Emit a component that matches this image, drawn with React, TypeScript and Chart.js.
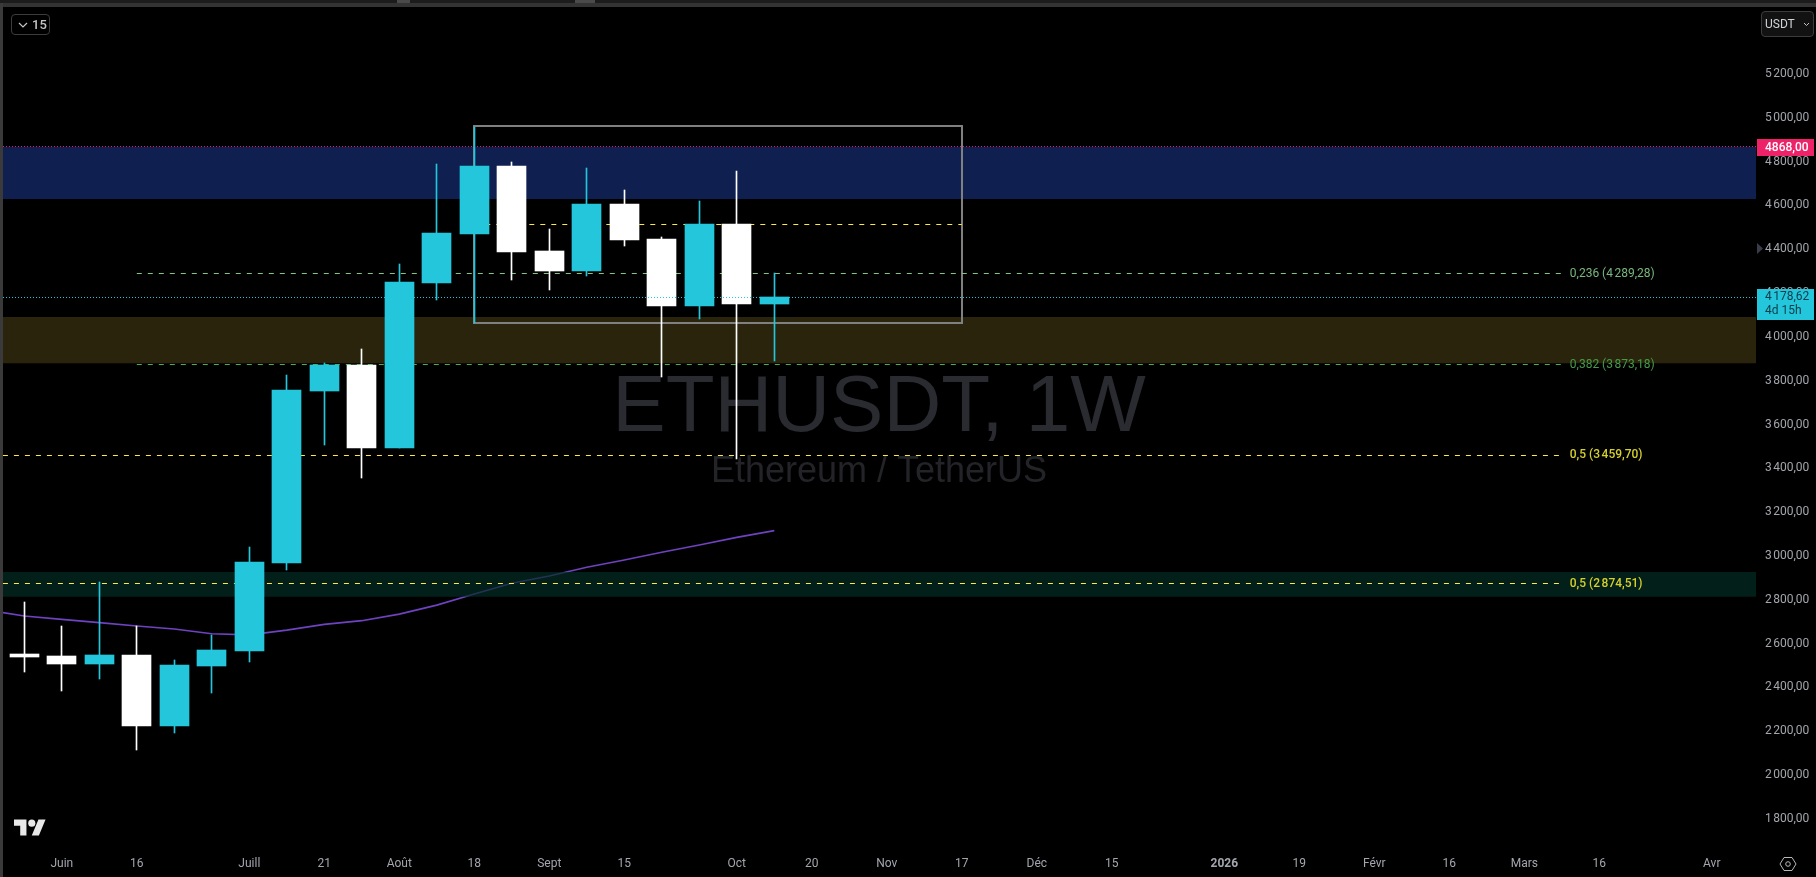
import React, { useEffect, useRef } from "react";
import { Chart, registerables } from "chart.js";

Chart.register(...registerables);

// Candles, one per week
const opens = [2553, 2544, 2507, 2548, 2226, 2498, 2568, 2970, 3755, 3872, 3494, 4246, 4471, 4780, 4392, 4301, 4607, 4447, 4141, 4515, 4150];
const highs = [2790, 2681, 2881, 2681, 2525, 2640, 3043, 3826, 3880, 3945, 4333, 4789, 4959, 4798, 4493, 4771, 4671, 4456, 4620, 4757, 4290];
const lows = [2472, 2385, 2440, 2116, 2194, 2376, 2518, 2938, 3508, 3358, 3494, 4170, 4064, 4260, 4214, 4279, 4415, 3818, 4082, 3441, 3892];
const closes = [2539, 2507, 2548, 2226, 2503, 2571, 2973, 3758, 3872, 3494, 4251, 4474, 4780, 4388, 4301, 4607, 4442, 4141, 4515, 4150, 4182];

// Moving average
const maWeeks = [-0.57, 0, 1, 2, 3, 4, 5, 6, 7, 8, 9, 10, 11, 12, 13, 14, 15, 16, 17, 18, 19, 20];
const maValues = [2742, 2726, 2711, 2696, 2681, 2667, 2645, 2640, 2662, 2688, 2705, 2735, 2776, 2827, 2876, 2909, 2949, 2982, 3017, 3050, 3085, 3116];

// Axis
const yTickValues = [5200, 5000, 4800, 4600, 4400, 4200, 4000, 3800, 3600, 3400, 3200, 3000, 2800, 2600, 2400, 2200, 2000, 1800];
const yTickLabels = ["5\u202f200,00", "5\u202f000,00", "4\u202f800,00", "4\u202f600,00", "4\u202f400,00", "4\u202f200,00", "4\u202f000,00", "3\u202f800,00", "3\u202f600,00", "3\u202f400,00", "3\u202f200,00", "3\u202f000,00", "2\u202f800,00", "2\u202f600,00", "2\u202f400,00", "2\u202f200,00", "2\u202f000,00", "1\u202f800,00"];
const xTickWeeks = [1, 3, 6, 8, 10, 12, 14, 16, 19, 21, 23, 25, 27, 29, 32, 34, 36, 38, 40, 42, 45];
const xTickLabels = ["Juin", "16", "Juill", "21", "Août", "18", "Sept", "15", "Oct", "20", "Nov", "17", "Déc", "15", "2026", "19", "Févr", "16", "Mars", "16", "Avr"];
const xDomain = [-0.568, 46.179];
const yDomain = [1662.9, 5505.8];

// Zones
const blueZone = [4629, 4868];
const oliveZone = [3880, 4091];
const tealZone = [2814, 2927];

// Drawn box
const boxWeeks = [12, 25];
const boxPrices = [4064, 4964];

// Horizontal levels
const lastPrice = 4178.62;
const resistance = 4868;
const boxLevel = 4514;
const fibValues = [4289.28, 3873.18, 3459.7, 2874.51];
const fibStarts = [3, 3, -0.57, -0.57];
const fibEnd = 41;
const fibColors = ["#81c784", "#4caf50", "#ffeb3b", "#ffeb3b"];
const fibLabels = ["0,236 (4\u202f289,28)", "0,382 (3\u202f873,18)", "0,5 (3\u202f459,70)", "0,5 (2\u202f874,51)"];
const fibLabelColors = ["#79b77c", "#459c49", "#d6d02c", "#d6d02c"];
const fibLabelWeights = ["400", "400", "500", "500"];

const FONT = "Roboto, 'Noto Sans', sans-serif";
const UP = "#24c6dc";
const DOWN = "#ffffff";

const level = (value: number, from: number, to: number, color: string, dash: number[], order: number) => ({
  type: "line",
  data: [{ x: from, y: value }, { x: to, y: value }],
  borderColor: color,
  borderWidth: 1,
  borderDash: dash,
  pointRadius: 0,
  order,
  snapMode: "level",
});

const zone = (range: number[], color: string, order: number) => ({
  type: "line",
  data: [{ x: xDomain[0], y: range[1] }, { x: xDomain[1], y: range[1] }],
  borderWidth: 0,
  borderColor: "transparent",
  backgroundColor: color,
  fill: { value: range[0] },
  pointRadius: 0,
  order,
});

const snapPlugin = {
  id: "snap",
  afterDatasetsUpdate(chart: any) {
    chart.data.datasets.forEach((ds: any, i: number) => {
      const els = chart.getDatasetMeta(i).data;
      els.forEach((el: any) => {
        if (ds.snapMode === "bar") {
          const w = ds.barThickness;
          el.x = Math.round(el.x - w / 2) + w / 2;
          el.y = Math.round(el.y);
          el.base = Math.round(el.base);
          el.height = el.base - el.y;
        } else if (ds.snapMode === "level") {
          el.y = Math.floor(el.y) + 0.5;
        } else if (ds.snapMode === "box") {
          el.x = Math.round(el.x);
          el.y = Math.round(el.y);
        }
      });
    });
  },
};

const watermarkPlugin = {
  id: "watermark",
  beforeDatasetsDraw(chart: any) {
    const c = chart.ctx;
    c.save();
    c.textAlign = "center";
    c.textBaseline = "alphabetic";
    c.fillStyle = "#2a2b30";
    c.font = "80px 'Liberation Sans', Arial, sans-serif";
    c.fillText("ETHUSDT, 1W", 879, 431);
    c.fillStyle = "#232428";
    c.font = "36px 'Liberation Sans', Arial, sans-serif";
    c.fillText("Ethereum / TetherUS", 879, 482);
    c.restore();
  },
};

const overlayPlugin = {
  id: "overlay",
  afterDraw(chart: any) {
    const c = chart.ctx;
    const xs = chart.scales.x;
    const ys = chart.scales.y;
    c.save();
    c.textBaseline = "middle";
    c.textAlign = "left";
    fibLabels.forEach((t, i) => {
      c.font = `${fibLabelWeights[i]} 12px ${FONT}`;
      c.fillStyle = fibLabelColors[i];
      c.fillText(t, xs.getPixelForValue(fibEnd) + 8, Math.round(ys.getPixelForValue(fibValues[i])));
    });
    // resistance price tag
    const ry = Math.round(ys.getPixelForValue(resistance));
    c.fillStyle = "#ee2268";
    c.fillRect(1757, ry - 8, 57, 17);
    c.fillStyle = "#ffffff";
    c.font = `500 12px ${FONT}`;
    c.fillText("4868,00", 1765, ry + 1);
    // last price tag
    const ly = Math.round(ys.getPixelForValue(lastPrice));
    c.fillStyle = UP;
    c.fillRect(1757, ly - 9, 57, 31);
    c.fillStyle = "#0d3b47";
    c.font = `400 12px ${FONT}`;
    c.fillText("4\u202f178,62", 1765, ly - 1);
    c.fillText("4d 15h", 1765, ly + 13);
    // alert marker
    c.fillStyle = "#3a3c4a";
    c.beginPath();
    c.moveTo(1757, 243);
    c.lineTo(1763, 248.5);
    c.lineTo(1757, 254);
    c.closePath();
    c.fill();
    c.restore();
  },
};

const noAxisPadding = (s: any) => {
  s.paddingLeft = 0;
  s.paddingRight = 0;
  s.paddingTop = 0;
  s.paddingBottom = 0;
};

export default function App() {
  const ref = useRef<HTMLCanvasElement | null>(null);

  useEffect(() => {
    const weeks = opens.map((_, i) => i);
    const candleColors = opens.map((o, i) => (closes[i] >= o ? UP : DOWN));
    const chart = new Chart(ref.current as any, {
      type: "bar",
      data: {
        datasets: [
          zone(blueZone, "#0e1f50", 100),
          zone(oliveZone, "#2a240c", 100),
          zone(tealZone, "rgba(3,44,37,0.7)", 60),
          {
            type: "line",
            data: maWeeks.map((x, i) => ({ x, y: maValues[i] })),
            borderColor: "#6f42c1",
            borderWidth: 1.6,
            pointRadius: 0,
            order: 70,
          },
          {
            type: "line",
            data: [
              { x: boxWeeks[0], y: boxPrices[1] },
              { x: boxWeeks[1], y: boxPrices[1] },
              { x: boxWeeks[1], y: boxPrices[0] },
              { x: boxWeeks[0], y: boxPrices[0] },
              { x: boxWeeks[0], y: boxPrices[1] },
            ],
            borderColor: "#808080",
            borderWidth: 2,
            borderCapStyle: "square",
            pointRadius: 0,
            order: 50,
            snapMode: "box",
          },
          level(boxLevel, boxWeeks[0], boxWeeks[1], "#ffeb3b", [5, 6], 40),
          ...fibValues.map((v, i) => level(v, fibStarts[i], fibEnd, fibColors[i], [5, 6], 40)),
          level(resistance, xDomain[0], xDomain[1], "#e91e63", [1, 2], 40),
          {
            type: "bar",
            data: weeks.map((x) => ({ x, y: [lows[x], highs[x]] })),
            backgroundColor: candleColors,
            barThickness: 1,
            grouped: false,
            order: 20,
            snapMode: "bar",
          },
          {
            type: "bar",
            data: weeks.map((x) => ({ x, y: [Math.min(opens[x], closes[x]), Math.max(opens[x], closes[x])] })),
            backgroundColor: candleColors,
            barThickness: 29,
            grouped: false,
            order: 10,
            snapMode: "bar",
          },
          level(lastPrice, xDomain[0], xDomain[1], "#24c6dc", [1, 2], 5),
        ] as any,
      },
      options: {
        responsive: false,
        animation: false,
        events: [],
        layout: { autoPadding: false, padding: { left: 3, top: 7, right: 0, bottom: 0 } },
        plugins: { legend: { display: false }, title: { display: false }, tooltip: { enabled: false } },
        scales: {
          x: {
            type: "linear",
            offset: false,
            min: xDomain[0],
            max: xDomain[1],
            grid: { display: false, drawTicks: false },
            border: { display: false },
            afterBuildTicks: (s: any) => {
              s.ticks = xTickWeeks.map((value) => ({ value }));
            },
            afterFit: (s: any) => {
              s.height = 28;
              noAxisPadding(s);
            },
            ticks: {
              autoSkip: false,
              maxRotation: 0,
              padding: 8,
              color: "#a3a6ad",
              font: (ctx: any) => ({ family: FONT, size: 12, weight: ctx.tick && ctx.tick.value === 32 ? "700" : "400" }),
              callback: (v: any) => xTickLabels[xTickWeeks.indexOf(v)],
            },
          },
          y: {
            type: "linear",
            position: "right",
            min: yDomain[0],
            max: yDomain[1],
            grid: { display: false, drawTicks: false },
            border: { display: false },
            afterBuildTicks: (s: any) => {
              s.ticks = yTickValues.map((value) => ({ value }));
            },
            afterFit: (s: any) => {
              s.width = 60;
              noAxisPadding(s);
            },
            ticks: {
              autoSkip: false,
              padding: 9,
              crossAlign: "near",
              color: "#a3a6ad",
              font: { family: FONT, size: 12 },
              callback: (v: any) => yTickLabels[yTickValues.indexOf(v)],
            },
          },
        },
      } as any,
      plugins: [snapPlugin, watermarkPlugin, overlayPlugin] as any,
    });
    return () => chart.destroy();
  }, []);

  const abs = (left: number, top: number, width: number, height: number, background: string): React.CSSProperties => ({
    position: "absolute",
    left,
    top,
    width,
    height,
    background,
  });

  return (
    <div style={{ position: "fixed", inset: 0, background: "#000", overflow: "hidden", fontFamily: FONT }}>
      <canvas ref={ref} width={1816} height={877} style={{ position: "absolute", left: 0, top: 0, width: 1816, height: 877 }} />
      <div style={abs(0, 0, 1816, 3, "#1c1c1c")} />
      <div style={abs(0, 3, 1816, 4, "#333333")} />
      <div style={abs(0, 3, 3, 874, "#3a3a3a")} />
      <div style={abs(397, 0, 13, 3, "#4a4a4a")} />
      <div style={abs(575, 0, 20, 3, "#4a4a4a")} />
      <div style={{ position: "absolute", left: 11, top: 14, width: 37, height: 19, border: "1px solid #3c3c3c", borderRadius: 4, color: "#c4c4c4", fontSize: 13, lineHeight: "19px", fontWeight: 500 }}>
        <svg width="10" height="6" viewBox="0 0 10 6" style={{ position: "absolute", left: 6, top: 7 }}>
          <path d="M1 1l4 4 4-4" fill="none" stroke="#c4c4c4" strokeWidth="1.2" />
        </svg>
        <span style={{ position: "absolute", left: 20 }}>15</span>
      </div>
      <div style={{ position: "absolute", left: 1761, top: 11, width: 51, height: 24, border: "1px solid #3c3c3c", borderRadius: 4, background: "#121212", color: "#d0d3d8", fontSize: 12, lineHeight: "24px" }}>
        <span style={{ position: "absolute", left: 3 }}>USDT</span>
        <svg width="7" height="5" viewBox="0 0 7 5" style={{ position: "absolute", left: 41, top: 10 }}>
          <path d="M1 1l2.5 2.5L6 1" fill="none" stroke="#c4c4c4" strokeWidth="1" />
        </svg>
      </div>
      <svg width="32" height="25" viewBox="0 0 36 28" style={{ position: "absolute", left: 14, top: 816 }}>
        <path d="M14 22H7V11H0V4h14v18zM28 22h-8l7.5-18h8L28 22z" fill="#e8e8e8" />
        <circle cx="20" cy="8" r="4" fill="#e8e8e8" />
      </svg>
      <svg width="18" height="16" viewBox="0 0 18 16" style={{ position: "absolute", left: 1779, top: 856 }}>
        <path d="M5 1.5h8L17 8l-4 6.5H5L1 8z" fill="none" stroke="#b8b8b8" strokeWidth="1" />
        <circle cx="9" cy="8" r="2.3" fill="none" stroke="#b8b8b8" strokeWidth="1" />
      </svg>
    </div>
  );
}
